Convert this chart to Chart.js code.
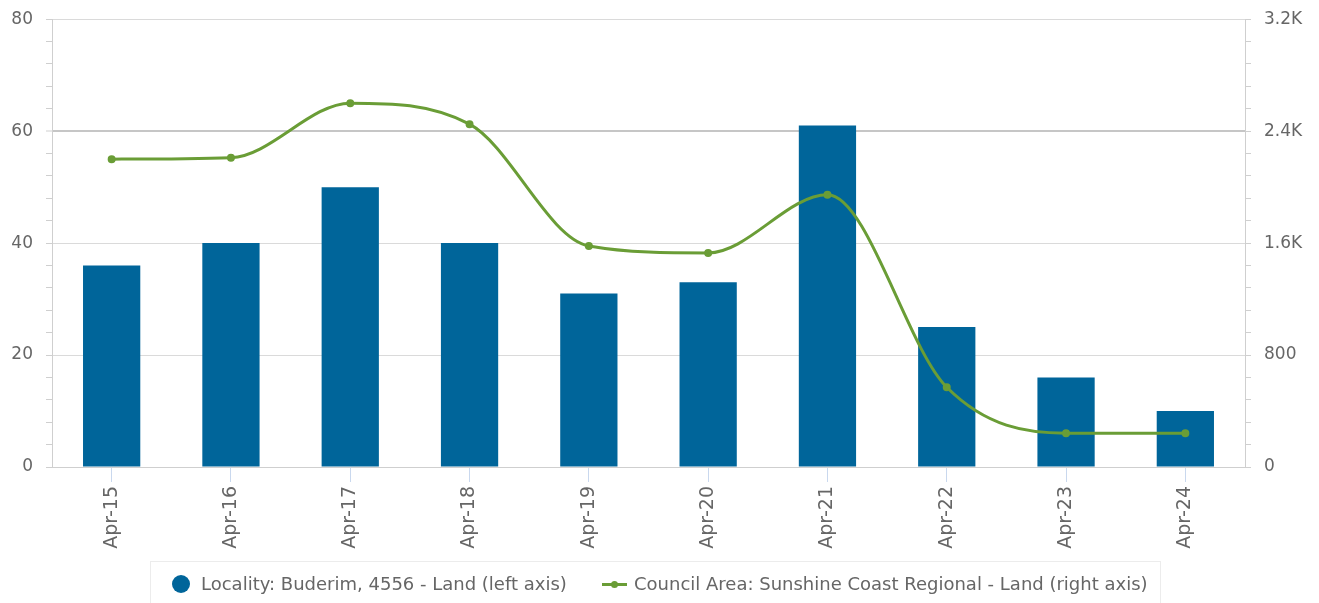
<!DOCTYPE html>
<html>
<head>
<meta charset="utf-8">
<script src="https://cdn.jsdelivr.net/npm/chart.js@4.4.1/dist/chart.umd.min.js"></script>
<style>
  body { margin: 0; background: #fff; font-family: "DejaVu Sans", sans-serif; }
  #wrap { position: relative; width: 1319px; height: 603px; overflow: hidden; }
  #grafico { position: absolute; left: 0; top: -4px; }
  #leyenda {
    position: absolute; left: 150px; top: 561px; width: 1011px; height: 50px;
    border: 1px solid #ececec; box-sizing: border-box; color: #666; font-size: 18px;
  }
  .item { position: absolute; top: 11px; white-space: nowrap; line-height: 22px; }
  .punto { position: absolute; left: 21px; top: 13px; width: 18px; height: 18px; border-radius: 50%; background: #00659a; }
  .linea { position: absolute; left: 451px; top: 21px; width: 25px; height: 3px; background: #6a9d36; }
  .linea::after { content: ''; position: absolute; left: 9px; top: -2px; width: 7px; height: 7px; border-radius: 50%; background: #6a9d36; }
</style>
</head>
<body>
<div id="wrap">
  <canvas id="grafico" width="1319" height="607"></canvas>
  <div id="leyenda">
    <div class="punto"></div>
    <div class="item" style="left:50px">Locality: Buderim, 4556 - Land (left axis)</div>
    <div class="linea"></div>
    <div class="item" style="left:483px">Council Area: Sunshine Coast Regional - Land (right axis)</div>
  </div>
</div>
<script>
// Datos
const etiquetas = ['Apr-15', 'Apr-16', 'Apr-17', 'Apr-18', 'Apr-19', 'Apr-20', 'Apr-21', 'Apr-22', 'Apr-23', 'Apr-24'];
const localidad = [36, 40, 50, 40, 31, 33, 61, 25, 16, 10];           // eje izquierdo
const consejo = [2200, 2210, 2600, 2450, 1580, 1530, 1945, 570, 242, 242]; // eje derecho

const ticksIzq = [0, 20, 40, 60, 80];
const ticksDer = [0, 800, 1600, 2400, 3200];

const gris = '#cfcfcf';

function formatoK(v) {
  return v >= 1000 ? (v / 1000) + 'K' : String(v);
}

new Chart(document.getElementById('grafico'), {
  data: {
    labels: etiquetas,
    datasets: [
      {
        type: 'line',
        label: 'Council Area: Sunshine Coast Regional - Land (right axis)',
        data: consejo,
        yAxisID: 'y1',
        borderColor: '#6a9d36',
        backgroundColor: '#6a9d36',
        borderWidth: 3,
        pointRadius: 2.5,
        pointHoverRadius: 2.5,
        cubicInterpolationMode: 'monotone',
        order: 0
      },
      {
        type: 'bar',
        label: 'Locality: Buderim, 4556 - Land (left axis)',
        data: localidad,
        yAxisID: 'y',
        backgroundColor: '#00659a',
        barPercentage: 0.48,
        categoryPercentage: 1,
        order: 1
      }
    ]
  },
  options: {
    responsive: false,
    animation: false,
    layout: { padding: { top: 2, left: 0, right: 0, bottom: 0 } },
    plugins: { legend: { display: false }, tooltip: { enabled: false } },
    scales: {
      x: {
        afterFit: s => { s.height = 136; },
        grid: { drawOnChartArea: false, offset: false, tickColor: '#c9d8ee', tickLength: 15 },
        border: { color: gris },
        ticks: {
          color: '#666', font: { family: 'DejaVu Sans', size: 19 },
          maxRotation: 90, minRotation: 90, padding: 4
        }
      },
      y: {
        position: 'left',
        min: 0, max: 80,
        afterFit: s => { s.width = 52; },
        afterBuildTicks: s => { s.ticks = []; for (let v = 0; v <= 80; v += 4) s.ticks.push({ value: v }); },
        grid: {
          color: c => c.tick && ticksIzq.includes(c.tick.value) ? (c.tick.value === 60 ? '#c6c6c6' : '#dadada') : 'rgba(0,0,0,0)',
          lineWidth: c => c.tick && c.tick.value === 60 ? 2 : 1,
          tickColor: gris, tickWidth: 1, tickLength: 6
        },
        border: { color: gris },
        ticks: {
          autoSkip: false, color: '#666', font: { family: 'DejaVu Sans', size: 17 }, padding: 13,
          callback: v => ticksIzq.includes(v) ? String(v) : ''
        }
      },
      y1: {
        position: 'right',
        min: 0, max: 3200,
        afterFit: s => { s.width = 74; },
        afterBuildTicks: s => { s.ticks = []; for (let v = 0; v <= 3200; v += 160) s.ticks.push({ value: v }); },
        grid: { drawOnChartArea: false, tickColor: gris, tickWidth: 1, tickLength: 6 },
        border: { color: gris },
        ticks: {
          autoSkip: false, color: '#666', font: { family: 'DejaVu Sans', size: 17 }, padding: 13,
          callback: v => ticksDer.includes(v) ? formatoK(v) : ''
        }
      }
    }
  }
});
</script>
</body>
</html>
